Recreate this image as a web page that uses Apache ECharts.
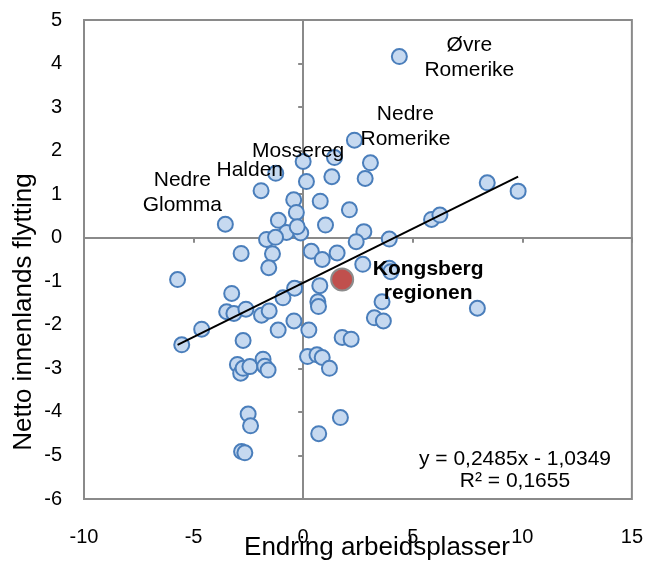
<!DOCTYPE html>
<html lang="no">
<head>
    <meta charset="UTF-8">
    <script src="https://cdn.jsdelivr.net/npm/echarts@6/dist/echarts.min.js"></script>
    <title>Netto innenlands flytting</title>
    <style>
        html, body { margin: 0; padding: 0; background: #fff; }
    </style>
</head>
<body>
    <div id="scatter" style="width: 646px;height:561px;"></div>
</body>
<script type="text/javascript">
    // regioner med navn i figuren
    var namedRegions = ['Øvre\nRomerike', 'Nedre\nRomerike', 'Mossereg', 'Halden', 'Nedre\nGlomma'];
    var namedX = [4.39, 2.34, 0.00, -1.25, -3.55];
    var namedY = [4.16, 2.24, 1.75, 1.48, 0.31];

    // øvrige regioner
    var otherX = [-1.92, 0.15, 0.78, -0.43, -0.31, -1.13, 1.02, -0.76, -0.11, -0.27,
        -1.67, -1.26, -2.83, -1.40, 0.37, 0.87, -1.57, -5.73, 1.43, 1.31,
        3.07, 2.83, 8.40, 9.81, 2.11, 5.86, 6.24, 2.77, 2.42, 3.93,
        1.55, 2.72, 3.93, 4.00, 0.76, 0.67, 0.70, 3.60, 7.95, 3.25,
        3.66, 0.26, 1.78, 2.19, 0.20, 0.63, 0.87, 1.20, -0.42, -3.26,
        -3.49, -3.16, -2.61, -1.90, -1.55, -0.92, -0.39, -4.63, -5.54, -2.74,
        -1.14, -3.00, -2.85, -2.74, -2.43, -1.83, -1.75, -1.60, -2.51, -2.40,
        -2.81, -2.66, 0.71, 1.70];
    var otherY = [1.08, 1.29, 0.84, 0.87, 0.58, 0.40, 0.29, 0.12, 0.11, 0.25,
        -0.04, 0.01, -0.36, -0.37, -0.31, -0.50, -0.69, -0.96, 1.84, 1.40,
        1.72, 1.36, 1.26, 1.07, 0.64, 0.42, 0.52, 0.14, -0.09, -0.03,
        -0.35, -0.61, -0.70, -0.78, -1.10, -1.47, -1.58, -1.47, -1.62, -1.84,
        -1.91, -2.12, -2.29, -2.33, -2.73, -2.69, -2.75, -3.00, -1.91, -1.28,
        -1.70, -1.74, -1.64, -1.78, -1.68, -1.38, -1.16, -2.10, -2.46, -2.36,
        -2.12, -2.91, -3.11, -3.00, -2.96, -2.79, -2.95, -3.04, -4.05, -4.32,
        -4.91, -4.94, -4.50, -4.13];

    // Kongsberg
    var highlightName = 'Kongsberg\nregionen';
    var highlightX = [1.78];
    var highlightY = [-0.96];

    // trendlinje (fra Excel)
    var trendSlope = 0.2485;
    var trendIntercept = -1.0349;
    var trendText = ['y = 0,2485x - 1,0349', 'R² = 0,1655'];

    var xTitle = 'Endring arbeidsplasser';
    var yTitle = 'Netto innenlands flytting';

    var FONT = '"Liberation Sans", Arial, sans-serif';
    var GRAY = '#8a8a8a';

    // label-forskyvning i piksler
    var labelOffsets = {
        'Øvre\nRomerike': [70, 1],
        'Nedre\nRomerike': [51, -13],
        'Mossereg': [-5, -10],
        'Halden': [-26, -3],
        'Nedre\nGlomma': [-43, -32]
    };

    var blueData = [];
    for (var i = 0; i < namedX.length; i++) {
        blueData.push({
            name: namedRegions[i],
            value: [namedX[i], namedY[i]],
            label: {show: true, offset: labelOffsets[namedRegions[i]]}
        });
    }
    for (var j = 0; j < otherX.length; j++) {
        blueData.push({value: [otherX[j], otherY[j]]});
    }

    var allX = namedX.concat(otherX);
    var xMin = Math.min.apply(null, allX);
    var xMax = Math.max.apply(null, allX);
    var trendData = [[xMin, trendSlope * xMin + trendIntercept], [xMax, trendSlope * xMax + trendIntercept]];

    var chart = echarts.init(document.getElementById('scatter'));
    chart.setOption({
        animation: false,
        textStyle: {fontFamily: FONT},
        grid: {
            left: 84, right: 12, top: 20, bottom: 62,
            show: true, borderColor: GRAY, borderWidth: 2, backgroundColor: '#fff'
        },
        xAxis: [{
            type: 'value', min: -10, max: 15, interval: 5, position: 'bottom',
            axisLine: {show: false, onZero: false},
            axisTick: {show: false},
            splitLine: {show: false},
            axisLabel: {margin: 28, fontSize: 20, color: '#000', fontFamily: FONT}
        }, {
            type: 'value', min: -10, max: 15, interval: 5, position: 'top',
            axisLine: {show: true, onZero: true, lineStyle: {color: GRAY, width: 2}},
            axisTick: {show: true, inside: true, length: 5, lineStyle: {color: GRAY, width: 2}},
            splitLine: {show: false},
            axisLabel: {show: false}
        }],
        yAxis: [{
            type: 'value', min: -6, max: 5, interval: 1, position: 'left',
            axisLine: {show: false, onZero: false},
            axisTick: {show: false},
            splitLine: {show: false},
            axisLabel: {margin: 22, fontSize: 20, color: '#000', fontFamily: FONT}
        }, {
            type: 'value', min: -6, max: 5, interval: 1, position: 'right',
            axisLine: {show: true, onZero: true, lineStyle: {color: GRAY, width: 2}},
            axisTick: {show: true, inside: true, length: 5, lineStyle: {color: GRAY, width: 2}},
            splitLine: {show: false},
            axisLabel: {show: false}
        }],
        series: [{
            type: 'scatter',
            z: 2,
            symbolSize: 15,
            itemStyle: {color: '#c6d9f0', borderColor: '#4a7ebb', borderWidth: 2, opacity: 1},
            label: {
                show: false,
                position: 'inside',
                formatter: '{b}',
                color: '#000',
                fontSize: 21,
                lineHeight: 25,
                align: 'center',
                fontFamily: FONT
            },
            data: blueData
        }, {
            type: 'line',
            z: 3,
            symbol: 'none',
            silent: true,
            lineStyle: {color: '#000', width: 2},
            data: trendData
        }, {
            type: 'scatter',
            z: 4,
            symbolSize: 22,
            itemStyle: {color: '#c0504d', borderColor: '#8c8c8c', borderWidth: 2, opacity: 1},
            label: {
                show: true,
                position: 'inside',
                offset: [86, 2],
                formatter: '{b}',
                color: '#000',
                fontSize: 21,
                lineHeight: 24,
                fontWeight: 'bold',
                align: 'center',
                fontFamily: FONT
            },
            data: [{name: highlightName, value: [highlightX[0], highlightY[0]]}]
        }],
        graphic: [{
            type: 'text', x: 515, y: 459, z: 10,
            style: {text: trendText[0], font: '21px ' + FONT, fill: '#000', textAlign: 'center', textVerticalAlign: 'middle'}
        }, {
            type: 'text', x: 515, y: 481, z: 10,
            style: {text: trendText[1], font: '21px ' + FONT, fill: '#000', textAlign: 'center', textVerticalAlign: 'middle'}
        }, {
            type: 'text', x: 377, y: 548, z: 10,
            style: {text: xTitle, font: '26px ' + FONT, fill: '#000', textAlign: 'center', textVerticalAlign: 'middle'}
        }, {
            type: 'text', x: 24, y: 312, z: 10, rotation: Math.PI / 2,
            style: {text: yTitle, font: '26px ' + FONT, fill: '#000', textAlign: 'center', textVerticalAlign: 'middle'}
        }]
    });
</script>
</html>
